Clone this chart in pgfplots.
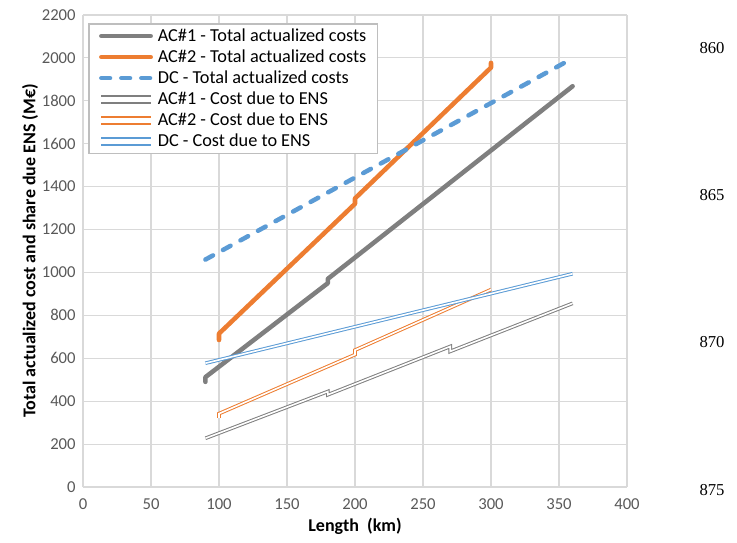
\documentclass[border=0pt]{standalone}
\usepackage{pgfplots}
\pgfplotsset{compat=1.18}
\usepackage{fontspec}
\setmainfont{Carlito}
\newfontfamily\timesfont{Liberation Serif}
\definecolor{xgray}{HTML}{7F7F7F}
\definecolor{xorange}{HTML}{ED7D31}
\definecolor{xblue}{HTML}{5B9BD5}
\definecolor{xgrid}{HTML}{D9D9D9}
\definecolor{xtext}{HTML}{595959}
\tikzset{
  dbl/.style={draw=#1, double=white, double distance=1.2pt, line width=0.75pt},
}
\begin{document}
\begin{tikzpicture}
\path[use as bounding box] (0,0) rectangle (552.75pt,406.5pt);
\begin{axis}[
  at={(62.25pt,41.25pt)}, anchor=south west,
  scale only axis, width=408pt, height=354pt,
  xmin=0, xmax=400, ymin=0, ymax=2200,
  xtick={0,50,...,400}, ytick={0,200,...,2200},
  axis lines*=left,
  axis line style={draw=xgrid, line width=0.8pt},
  grid=major, major grid style={draw=xgrid, line width=0.8pt},
  major tick length=0pt,
  tick label style={font=\fontsize{12.5}{14}\selectfont, text=xtext},
  /pgf/number format/assume math mode=true,
  /pgf/number format/1000 sep={},
  xticklabel style={yshift=-5pt},
  yticklabel style={xshift=-2pt},
  xlabel={\bfseries Length\ \ (km)},
  ylabel={\bfseries Total actualized cost and share due ENS (M€)},
  label style={font=\fontsize{13.5}{15}\selectfont},
  xlabel style={yshift=0pt},
  ylabel style={yshift=-4pt},
  legend cell align=left,
  legend style={at={(0.01,0.982)}, anchor=north west, draw=xgrid!70!gray, line width=0.8pt,
    font=\fontsize{13.7}{15.5}\selectfont, row sep=0.8pt, inner xsep=6pt, inner ysep=1.5pt},
  legend image code/.code={\draw[#1] (0pt,0pt) -- (37pt,0pt);},
]
\addplot[color=xgray, line width=3.4pt, line cap=round, line join=round] coordinates {(90,490) (90,512) (180,950) (180,970) (360,1868)};
\addlegendentry{AC\#1 - Total actualized costs}
\addplot[color=xorange, line width=3.4pt, line cap=round, line join=round] coordinates {(100,685) (100,715) (200,1320) (200,1345) (300,1955) (300,1977)};
\addlegendentry{AC\#2 - Total actualized costs}
\addplot[color=xblue, line width=3.4pt, line cap=round, dash pattern=on 6.5pt off 8.5pt] coordinates {(90,1060) (360,1998)};
\addlegendentry{DC - Total actualized costs}
\addplot[dbl=xgray, legend image code/.code={\draw[color=xgray, line width=2.7pt] (0pt,0pt) -- (37pt,0pt); \draw[color=white, line width=1.2pt] (0pt,0pt) -- (37pt,0pt);}] coordinates {(90,227) (180,445) (180,430) (270,655) (270,632) (360,856)};
\addlegendentry{AC\#1 - Cost due to ENS}
\addplot[dbl=xorange, legend image code/.code={\draw[color=xorange, line width=2.7pt] (0pt,0pt) -- (37pt,0pt); \draw[color=white, line width=1.2pt] (0pt,0pt) -- (37pt,0pt);}] coordinates {(100,322) (100,342) (200,617) (200,638) (300,920)};
\addlegendentry{AC\#2 - Cost due to ENS}
\addplot[dbl=xblue, legend image code/.code={\draw[color=xblue, line width=2.7pt] (0pt,0pt) -- (37pt,0pt); \draw[color=white, line width=1.2pt] (0pt,0pt) -- (37pt,0pt);}] coordinates {(90,577) (360,994)};
\addlegendentry{DC - Cost due to ENS}
\end{axis}
\begin{scope}[every node/.style={font=\timesfont\fontsize{12.5}{14}\selectfont, anchor=center}]
\node at (534pt,370.5pt) {860};
\node at (534pt,260.25pt) {865};
\node at (534pt,150pt) {870};
\node at (534pt,39pt) {875};
\end{scope}
\end{tikzpicture}
\end{document}
